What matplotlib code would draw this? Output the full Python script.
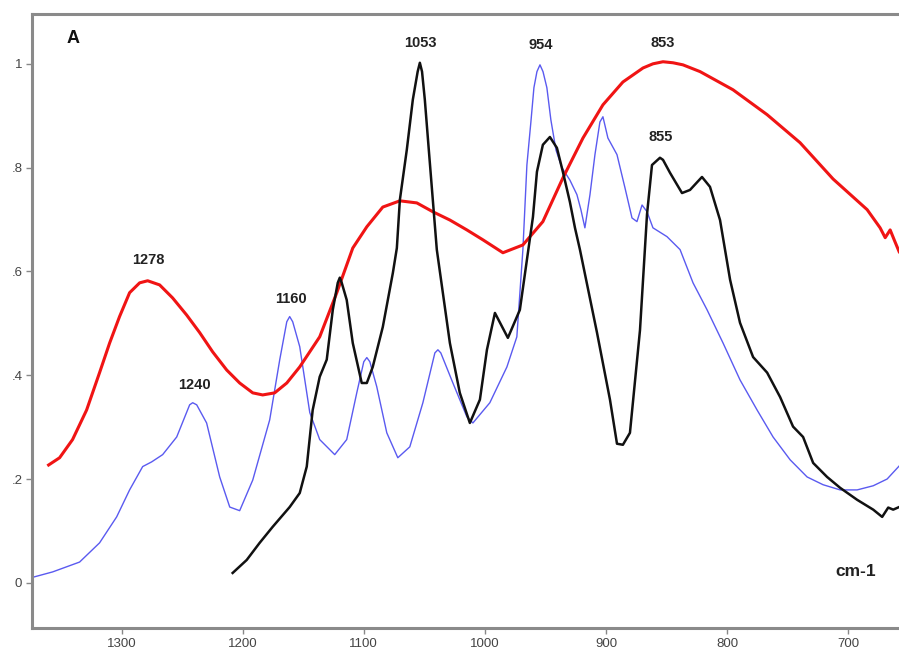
import matplotlib.pyplot as plt

# wavenumber (cm-1) / normalised absorbance, read per spectrum
red_wn = [1360.3, 1351.2, 1340.5, 1328.9, 1318.2, 1309.9, 1301.7, 1293.4, 1285.1, 1278.5,
          1268.6, 1257.9, 1246.3, 1235.5, 1224.8, 1213.2, 1202.5, 1191.7, 1183.5, 1173.6,
          1163.6, 1152.9, 1136.4, 1122.3, 1109.1, 1097.5, 1084.3, 1070.2, 1056.2, 1043.0,
          1028.9, 1014.9, 1001.7, 985.1, 968.6, 952.1, 935.6, 919.0, 902.5, 886.0,
          869.4, 861.2, 852.9, 844.6, 836.4, 822.3, 795.1, 766.9, 739.7, 712.4,
          684.3, 673.6, 669.4, 665.3, 662.0, 657.9]
red_abs = [0.227, 0.241, 0.276, 0.333, 0.405, 0.462, 0.513, 0.559, 0.578, 0.582,
           0.574, 0.549, 0.516, 0.482, 0.445, 0.410, 0.385, 0.366, 0.362, 0.366,
           0.385, 0.416, 0.474, 0.559, 0.645, 0.686, 0.724, 0.736, 0.732, 0.715,
           0.699, 0.680, 0.661, 0.636, 0.651, 0.696, 0.780, 0.857, 0.921, 0.965,
           0.992, 1.000, 1.004, 1.002, 0.998, 0.985, 0.950, 0.902, 0.848, 0.778,
           0.719, 0.684, 0.665, 0.680, 0.661, 0.638]

black_wn = [1208.3, 1196.7, 1186.0, 1175.2, 1161.2, 1152.9, 1147.1, 1142.2, 1136.4, 1130.6,
            1125.6, 1121.5, 1119.8, 1118.2, 1114.1, 1109.1, 1101.7, 1097.5, 1092.6, 1084.3,
            1076.0, 1072.7, 1070.2, 1064.5, 1059.5, 1055.5, 1053.7, 1051.9, 1049.6, 1046.3,
            1043.0, 1039.7, 1028.9, 1020.7, 1012.4, 1004.1, 998.3, 991.7, 981.0, 971.1,
            960.3, 957.0, 952.1, 946.3, 940.5, 935.6, 929.8, 925.6, 921.5, 907.4,
            896.7, 890.9, 886.0, 880.2, 871.9, 866.1, 862.0, 855.4, 852.9, 847.1,
            837.2, 830.6, 820.7, 814.1, 805.8, 797.5, 789.3, 778.5, 766.9, 756.2,
            745.5, 737.2, 728.9, 717.4, 706.6, 692.6, 679.3, 671.9, 666.9, 662.8, 657.9]
black_abs = [0.019, 0.044, 0.077, 0.108, 0.146, 0.173, 0.224, 0.333, 0.397, 0.430,
             0.526, 0.578, 0.588, 0.578, 0.545, 0.462, 0.385, 0.385, 0.416, 0.493,
             0.597, 0.645, 0.738, 0.834, 0.931, 0.985, 1.002, 0.985, 0.931, 0.834,
             0.738, 0.642, 0.462, 0.366, 0.308, 0.353, 0.449, 0.520, 0.472, 0.526,
             0.705, 0.792, 0.844, 0.859, 0.838, 0.792, 0.734, 0.684, 0.642, 0.482,
             0.353, 0.268, 0.266, 0.289, 0.487, 0.710, 0.805, 0.819, 0.815, 0.790,
             0.751, 0.757, 0.782, 0.763, 0.699, 0.584, 0.501, 0.435, 0.405, 0.358,
             0.301, 0.281, 0.231, 0.204, 0.183, 0.160, 0.141, 0.127, 0.145, 0.141, 0.146]

blue_wn = [1374.4, 1357.0, 1334.7, 1318.2, 1304.1, 1293.4, 1282.6, 1275.2, 1266.1, 1254.5,
           1243.8, 1241.3, 1238.0, 1229.8, 1219.0, 1210.7, 1202.5, 1191.7, 1177.7, 1169.4,
           1163.6, 1161.2, 1158.7, 1152.9, 1144.6, 1136.4, 1124.0, 1114.1, 1105.8, 1100.0,
           1097.5, 1095.0, 1089.3, 1081.0, 1071.9, 1062.0, 1051.2, 1041.3, 1038.8, 1036.4,
           1026.4, 1014.9, 1009.9, 995.9, 981.8, 973.6, 968.6, 965.3, 962.0, 959.5,
           957.0, 954.5, 952.0, 948.8, 945.5, 941.3, 936.4, 929.8, 924.0, 920.7,
           917.4, 913.2, 909.1, 905.0, 902.5, 898.4, 890.9, 884.3, 878.5, 874.4,
           870.2, 866.1, 861.2, 849.6, 838.8, 828.1, 816.5, 803.3, 789.3, 775.2,
           762.0, 747.9, 733.9, 720.7, 706.6, 692.6, 679.3, 667.8, 657.9]
blue_abs = [0.010, 0.021, 0.040, 0.077, 0.127, 0.179, 0.224, 0.233, 0.247, 0.281,
            0.343, 0.347, 0.343, 0.308, 0.204, 0.146, 0.139, 0.198, 0.314, 0.430,
            0.503, 0.513, 0.503, 0.455, 0.328, 0.276, 0.247, 0.276, 0.366, 0.426,
            0.434, 0.426, 0.378, 0.289, 0.241, 0.262, 0.347, 0.443, 0.449, 0.443,
            0.385, 0.320, 0.308, 0.347, 0.416, 0.474, 0.642, 0.805, 0.888, 0.954,
            0.985, 0.998, 0.985, 0.954, 0.892, 0.834, 0.800, 0.776, 0.748, 0.719,
            0.684, 0.748, 0.825, 0.888, 0.898, 0.857, 0.825, 0.761, 0.703, 0.696,
            0.728, 0.715, 0.684, 0.667, 0.642, 0.578, 0.526, 0.462, 0.391, 0.333,
            0.281, 0.237, 0.204, 0.189, 0.179, 0.179, 0.187, 0.200, 0.225]

# peak labels: (text, wavenumber, height)
peak_labels = [("1278", 1278, 0.622), ("1240", 1240, 0.381), ("1160", 1160, 0.547),
               ("1053", 1053, 1.040), ("954", 954, 1.037), ("853", 853, 1.040),
               ("855", 855, 0.859)]

x_ticks = [1300, 1200, 1100, 1000, 900, 800, 700]
y_ticks = [0, 0.2, 0.4, 0.6, 0.8, 1.0]
y_tick_labels = ["0", ".2", ".4", ".6", ".8", "1"]

plt.rcParams['font.family'] = ['Liberation Sans', 'DejaVu Sans']

fig = plt.figure(figsize=(8.99, 6.54), dpi=100)
ax = fig.add_axes([0.0356, 0.0398, 0.9644, 0.9388])

ax.plot(blue_wn, blue_abs, color='#5a5af0', lw=1.0, solid_joinstyle='round')
ax.plot(red_wn, red_abs, color='#f01414', lw=2.2, solid_joinstyle='round')
ax.plot(black_wn, black_abs, color='#111111', lw=1.8, solid_joinstyle='round')

for txt, x, y in peak_labels:
    ax.text(x, y, txt, ha='center', va='center', fontsize=10.5, fontweight='bold', color='#222222')

ax.text(1340.5, 1.048, "A", ha='center', va='center', fontsize=13, fontweight='bold', color='#111111')
ax.text(694, 0.021, "cm-1", ha='center', va='center', fontsize=12.5, fontweight='bold', color='#222222')

ax.set_xlim(1374, 658)
ax.set_ylim(-0.087, 1.096)
ax.set_xticks(x_ticks)
ax.set_yticks(y_ticks)
ax.set_yticklabels(y_tick_labels)
ax.tick_params(axis='both', direction='out', length=4, width=1, color='#888888',
               labelsize=9.5, labelcolor='#444444', pad=3)

for side in ['left', 'top', 'bottom']:
    ax.spines[side].set_color('#8a8a8a')
    ax.spines[side].set_linewidth(2.2)
ax.spines['right'].set_visible(False)

fig.savefig("out.png", dpi=100)
